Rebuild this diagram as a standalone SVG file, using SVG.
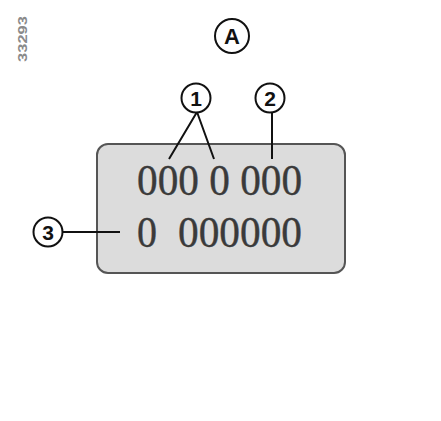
<svg xmlns="http://www.w3.org/2000/svg" width="441" height="421" viewBox="0 0 441 421">
<style>
.c{fill:#fff;stroke:#111;stroke-width:2}
.cl{font-family:"Liberation Sans",Arial,sans-serif;font-weight:bold;font-size:21px;fill:#111;text-anchor:middle}
.ln{stroke:#111;stroke-width:2;fill:none}
.dg{font-family:"Liberation Serif","Times New Roman",serif;font-size:44px;fill:#3a3a3a;stroke:#3a3a3a;stroke-width:0.4}
</style>
<rect width="441" height="421" fill="#fff"/>
<text transform="translate(27,39) rotate(-90)" font-family="'Liberation Sans',Arial,sans-serif" font-weight="bold" font-size="13" fill="#8a8a8a" text-anchor="middle" textLength="46" lengthAdjust="spacingAndGlyphs">33293</text>
<g id="display">
<rect x="97" y="144" width="248" height="129" rx="11" fill="#dcdcdc" stroke="#555" stroke-width="2"/>
<text class="dg" x="137" y="195" textLength="165" lengthAdjust="spacingAndGlyphs">000 0 000</text>
<text class="dg" x="137" y="247" textLength="20" lengthAdjust="spacingAndGlyphs">0</text>
<text class="dg" x="178" y="247" textLength="124" lengthAdjust="spacingAndGlyphs">000000</text>
</g>
<g id="connectors">
<path class="ln" d="M197 112 L169 159 M197 112 L214 159"/>
<path class="ln" d="M272 112 L272 159"/>
<path class="ln" d="M62 232 L120 232"/>
</g>
<g id="labelA">
<circle class="c" cx="232" cy="36" r="17"/>
<text class="cl" x="232" y="44" style="font-size:22px">A</text>
</g>
<g id="label1">
<circle class="c" cx="196" cy="98" r="14.5"/>
<text class="cl" x="196" y="105.5">1</text>
</g>
<g id="label2">
<circle class="c" cx="270" cy="98" r="14.5"/>
<text class="cl" x="270" y="105.5">2</text>
</g>
<g id="label3">
<circle class="c" cx="48" cy="232" r="14.5"/>
<text class="cl" x="48" y="239.5">3</text>
</g>
</svg>
